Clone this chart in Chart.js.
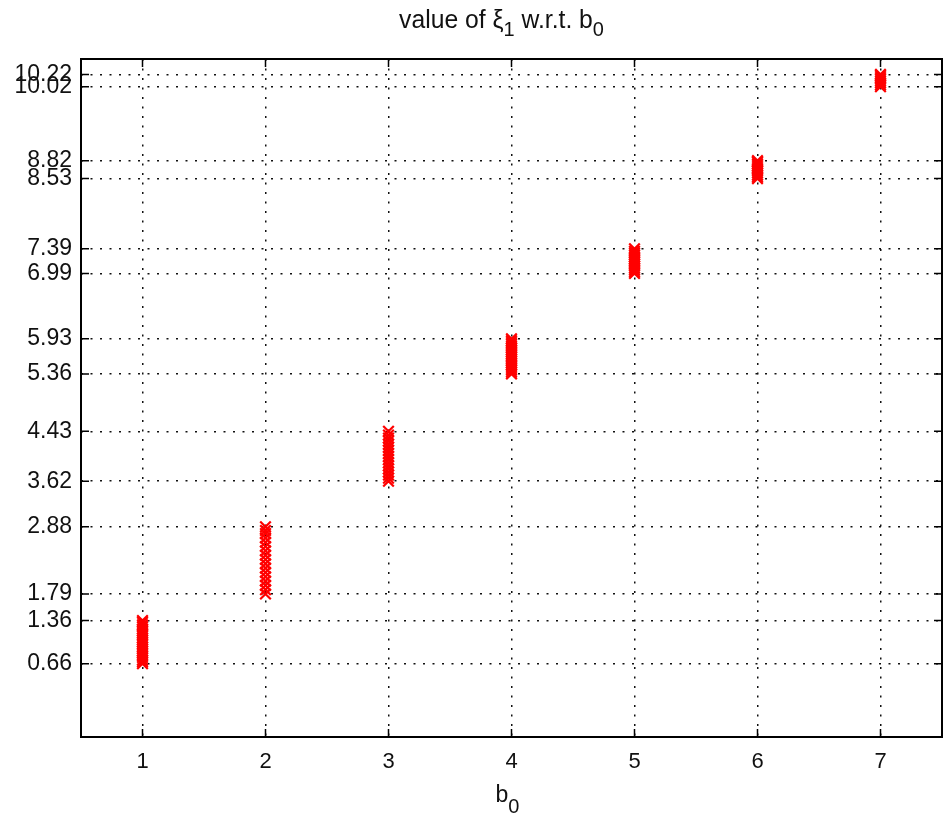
<!DOCTYPE html>
<html>
<head>
<meta charset="utf-8">
<script src="https://cdn.jsdelivr.net/npm/chart.js@4/dist/chart.umd.min.js"></script>
<style>
  html, body { margin: 0; padding: 0; background: #fff; }
  #wrap { width: 947px; height: 818px; }
</style>
</head>
<body>
<div id="wrap"><canvas id="xiChart" width="947" height="818"></canvas></div>
<script>
// b0 values (x axis)
const b0Values = [1, 2, 3, 4, 5, 6, 7];

// xi1 samples for each b0
const xiAtB1 = [0.66, 0.69, 0.72, 0.76, 0.79, 0.83, 0.86, 0.90, 0.93, 0.97, 1.01, 1.04, 1.08, 1.12, 1.15, 1.19, 1.22, 1.26, 1.29, 1.33, 1.36];
const xiAtB2 = [1.79, 1.86, 1.93, 2.00, 2.07, 2.14, 2.21, 2.28, 2.35, 2.42, 2.49, 2.56, 2.63, 2.70, 2.77, 2.82, 2.88];
const xiAtB3 = [3.62, 3.67, 3.72, 3.77, 3.82, 3.87, 3.92, 3.97, 4.02, 4.07, 4.12, 4.17, 4.22, 4.27, 4.32, 4.37, 4.43];
const xiAtB4 = [5.36, 5.39, 5.42, 5.45, 5.48, 5.51, 5.54, 5.57, 5.60, 5.63, 5.66, 5.69, 5.72, 5.75, 5.78, 5.81, 5.84, 5.87, 5.90, 5.93];
const xiAtB5 = [6.99, 7.02, 7.05, 7.08, 7.11, 7.14, 7.17, 7.20, 7.23, 7.26, 7.29, 7.32, 7.35, 7.39];
const xiAtB6 = [8.53, 8.56, 8.59, 8.62, 8.65, 8.68, 8.71, 8.74, 8.77, 8.80, 8.82];
const xiAtB7 = [10.02, 10.05, 10.08, 10.11, 10.14, 10.17, 10.20, 10.22];

// y tick labels used on the figure
const yTickValues = [0.66, 1.36, 1.79, 2.88, 3.62, 4.43, 5.36, 5.93, 6.99, 7.39, 8.53, 8.82, 10.02, 10.22];

const xiSeries = [xiAtB1, xiAtB2, xiAtB3, xiAtB4, xiAtB5, xiAtB6, xiAtB7];
const points = xiSeries.flatMap((ys, i) => ys.map(y => ({ x: b0Values[i], y })));

const FONT = '"Liberation Sans", Arial, sans-serif';

// draws text with subscript parts: [[text, isSub], ...], squeezed horizontally by sx
function drawSubText(ctx, parts, cx, baseline, size, subSize, subDrop, sx) {
  let total = 0;
  parts.forEach(([t, sub]) => {
    ctx.font = `${sub ? subSize : size}px ${FONT}`;
    total += ctx.measureText(t).width;
  });
  ctx.save();
  ctx.translate(cx, baseline);
  ctx.scale(sx, 1);
  let x = -total / 2;
  ctx.textAlign = 'left';
  ctx.textBaseline = 'alphabetic';
  parts.forEach(([t, sub]) => {
    ctx.font = `${sub ? subSize : size}px ${FONT}`;
    ctx.fillText(t, x, sub ? subDrop : 0);
    x += ctx.measureText(t).width;
  });
  ctx.restore();
}

const matlabFrame = {
  id: 'matlabFrame',
  afterDraw(chart) {
    const { ctx, chartArea: a, scales } = chart;
    const tl = 8;
    ctx.save();
    ctx.strokeStyle = '#000';
    ctx.lineWidth = 1.5;
    ctx.beginPath();
    scales.x.ticks.forEach(t => {
      const px = scales.x.getPixelForValue(t.value);
      ctx.moveTo(px, a.bottom); ctx.lineTo(px, a.bottom - tl);
      ctx.moveTo(px, a.top); ctx.lineTo(px, a.top + tl);
    });
    scales.y.ticks.forEach(t => {
      const py = scales.y.getPixelForValue(t.value);
      ctx.moveTo(a.left, py); ctx.lineTo(a.left + tl, py);
      ctx.moveTo(a.right, py); ctx.lineTo(a.right - tl, py);
    });
    ctx.stroke();
    ctx.lineWidth = 2;
    ctx.strokeRect(a.left, a.top, a.right - a.left, a.bottom - a.top);

    ctx.fillStyle = '#111';
    const cx = (a.left + a.right) / 2;
    drawSubText(ctx, [['value of \u03BE', false], ['1', true], [' w.r.t. b', false], ['0', true]],
      cx - 10, 28, 26, 21, 8, 0.95);
    drawSubText(ctx, [['b', false], ['0', true]], cx - 4, 802, 23, 20, 11, 1);
    ctx.restore();
  }
};

new Chart(document.getElementById('xiChart'), {
  type: 'scatter',
  data: {
    datasets: [{
      data: points,
      pointStyle: 'crossRot',
      pointRadius: 7.5,
      pointHoverRadius: 7.5,
      borderColor: '#ff0000',
      backgroundColor: '#ff0000',
      pointBorderWidth: 2.2
    }]
  },
  options: {
    responsive: false,
    animation: false,
    events: [],
    layout: { autoPadding: false, padding: { top: 59, right: 5, left: 0, bottom: 0 } },
    plugins: { legend: { display: false }, tooltip: { enabled: false }, title: { display: false } },
    scales: {
      x: {
        type: 'linear',
        min: 0.5,
        max: 7.5,
        afterBuildTicks: s => { s.ticks = b0Values.map(v => ({ value: v })); },
        afterFit: s => { s.height = 81; },
        grid: { color: '#111', lineWidth: 1.5, drawTicks: false },
        border: { display: false, dash: [2, 7.5] },
        ticks: { color: '#111', padding: 12, font: { family: FONT, size: 22 }, callback: v => String(v) }
      },
      y: {
        type: 'linear',
        min: -0.53,
        max: 10.47,
        afterBuildTicks: s => { s.ticks = yTickValues.map(v => ({ value: v })); },
        afterFit: s => { s.width = 81; },
        grid: { color: '#111', lineWidth: 1.5, drawTicks: false },
        border: { display: false, dash: [2, 7.5] },
        ticks: { color: '#111', padding: 9, autoSkip: false, font: { family: FONT, size: 23 }, callback: v => v.toFixed(2) }
      }
    }
  },
  plugins: [matlabFrame]
});
</script>
</body>
</html>
